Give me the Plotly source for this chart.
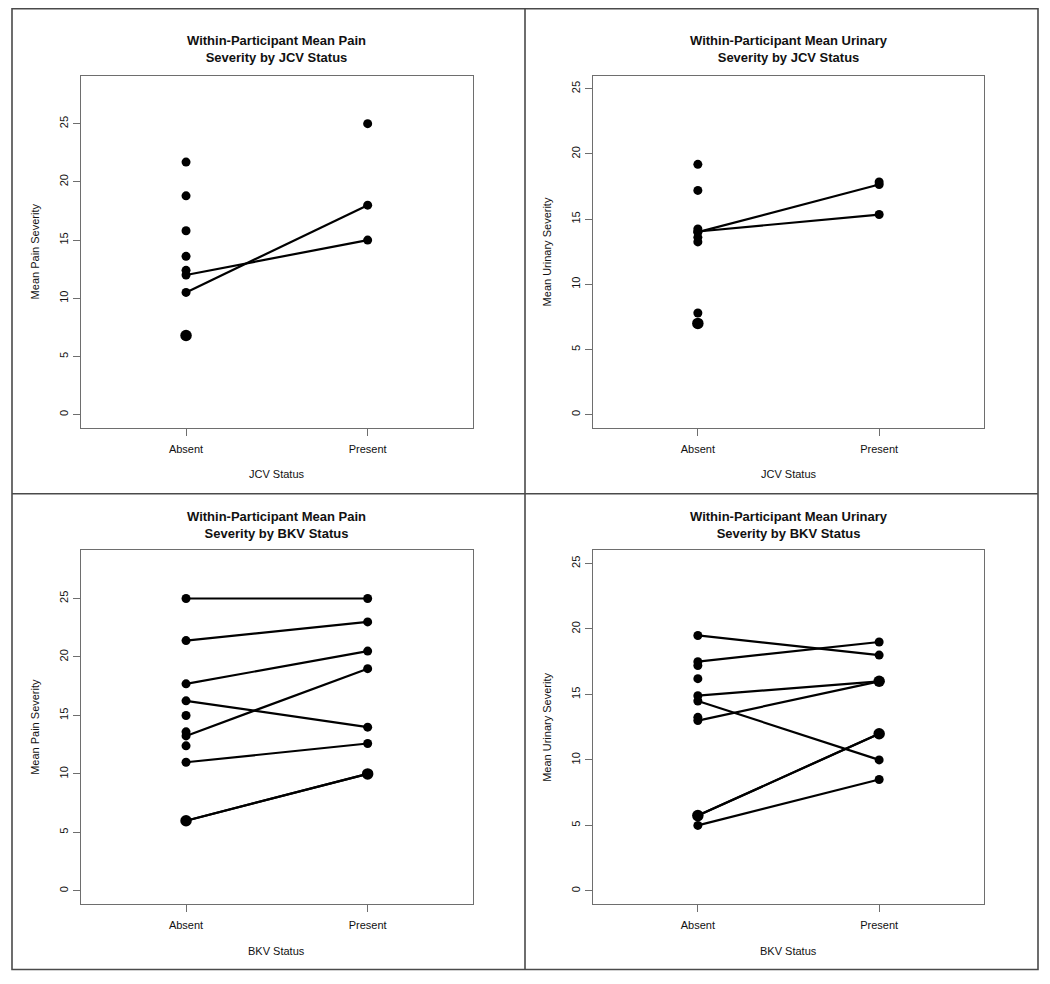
import plotly.graph_objects as go
from collections import Counter

# page body has an 8px margin; the figure is sized so that it fills the window
OFF = 8
W, H = 1050 - OFF, 984 - OFF

# ---------------- data ----------------
x_categories = ["Absent", "Present"]
pain_ticks = [0, 5, 10, 15, 20, 25]
urinary_ticks = [0, 5, 10, 15, 20, 25]

# Panel 1: pain by JCV
pain_jcv_pair_absent = [12.0, 10.5]
pain_jcv_pair_present = [15.0, 18.0]
pain_jcv_absent_only = [21.7, 18.8, 15.8, 13.6, 12.4, 6.8, 6.8]
pain_jcv_present_only = [25.0]

# Panel 2: urinary by JCV
uri_jcv_pair_absent = [14.0, 14.05]
uri_jcv_pair_present = [17.65, 15.35]
uri_jcv_absent_only = [19.2, 17.2, 14.25, 13.6, 13.25, 7.8, 7.0, 7.0]
uri_jcv_present_only = [17.85]

# Panel 3: pain by BKV
pain_bkv_pair_absent = [25.0, 21.4, 17.7, 16.25, 13.25, 11.0, 6.0, 6.0]
pain_bkv_pair_present = [25.0, 23.0, 20.5, 14.0, 19.0, 12.6, 10.0, 10.0]
pain_bkv_absent_only = [15.0, 13.6, 12.4]
pain_bkv_present_only = []

# Panel 4: urinary by BKV
uri_bkv_pair_absent = [19.5, 17.5, 14.9, 13.0, 14.5, 5.75, 5.75, 5.0]
uri_bkv_pair_present = [18.0, 19.0, 16.0, 16.0, 10.0, 12.0, 12.0, 8.5]
uri_bkv_absent_only = [17.2, 16.2, 13.25]
uri_bkv_present_only = []

titles = [
    "Within-Participant Mean Pain<br>Severity by JCV Status",
    "Within-Participant Mean Urinary<br>Severity by JCV Status",
    "Within-Participant Mean Pain<br>Severity by BKV Status",
    "Within-Participant Mean Urinary<br>Severity by BKV Status",
]
y_titles = ["Mean Pain Severity", "Mean Urinary Severity",
            "Mean Pain Severity", "Mean Urinary Severity"]
x_titles = ["JCV Status", "JCV Status", "BKV Status", "BKV Status"]

panels = [
    (pain_jcv_pair_absent, pain_jcv_pair_present, pain_jcv_absent_only, pain_jcv_present_only, pain_ticks, [0, 28]),
    (uri_jcv_pair_absent, uri_jcv_pair_present, uri_jcv_absent_only, uri_jcv_present_only, urinary_ticks, [0, 25]),
    (pain_bkv_pair_absent, pain_bkv_pair_present, pain_bkv_absent_only, pain_bkv_present_only, pain_ticks, [0, 28]),
    (uri_bkv_pair_absent, uri_bkv_pair_present, uri_bkv_absent_only, uri_bkv_present_only, urinary_ticks, [0, 25]),
]

# ---------------- layout geometry (window pixels) ----------------
boxes = [  # left, right, top, bottom
    (80.7, 473.0, 75.7, 427.7),
    (592.7, 984.3, 75.7, 427.7),
    (80.7, 473.0, 550.3, 904.0),
    (592.7, 984.3, 550.3, 904.0),
]

def px(x):
    return (x - OFF) / W

def py(y):
    return 1 - (y - OFF) / H

FONT = "Liberation Sans, Arial, sans-serif"
TXT = "#111111"
AXC = "#6e6e6e"

fig = go.Figure()
annotations = []
layout_axes = {}

for i, (pa, pp, ao, po, ticks, ylim) in enumerate(panels):
    n = i + 1
    xa = "x" if n == 1 else f"x{n}"
    ya = "y" if n == 1 else f"y{n}"
    # lines joining each participant's two means
    lx, ly = [], []
    for a, p in zip(pa, pp):
        lx += [1, 2, None]
        ly += [a, p, None]
    fig.add_trace(go.Scatter(x=lx, y=ly, mode="lines", xaxis=xa, yaxis=ya,
                             line=dict(color="black", width=2.2),
                             showlegend=False, hoverinfo="skip"))
    # points (duplicates drawn larger)
    absent_all = list(pa) + list(ao)
    present_all = list(pp) + list(po)
    for xv, vals in ((1, absent_all), (2, present_all)):
        cnt = Counter(vals)
        uniq = list(cnt.keys())
        sizes = [9 if cnt[v] == 1 else 11.5 for v in uniq]
        fig.add_trace(go.Scatter(x=[xv] * len(uniq), y=uniq, mode="markers",
                                 xaxis=xa, yaxis=ya, opacity=1,
                                 marker=dict(color="#000000", size=sizes, opacity=1,
                                             line=dict(width=0)),
                                 showlegend=False))
    L, R, T, B = boxes[i]
    ext = (ylim[1] - ylim[0]) * 0.04
    axis_common = dict(showline=True, mirror=True, linecolor=AXC, linewidth=1.3,
                       ticks="outside", ticklen=7, tickcolor=AXC, tickwidth=1.2,
                       showgrid=False, zeroline=False,
                       tickfont=dict(family=FONT, size=11, color=TXT))
    xkey = "xaxis" if n == 1 else f"xaxis{n}"
    ykey = "yaxis" if n == 1 else f"yaxis{n}"
    layout_axes[xkey] = dict(domain=[px(L), px(R)], anchor=ya, range=[0.42, 2.58],
                             tickvals=[1, 2], ticktext=x_categories,
                             ticklabelstandoff=4, **axis_common)
    layout_axes[ykey] = dict(domain=[py(B), py(T)], anchor=xa,
                             range=[ylim[0] - ext, ylim[1] + ext],
                             tickvals=ticks, ticktext=[str(t) for t in ticks],
                             tickangle=-90, **axis_common)
    cx = (L + R) / 2
    cy = (T + B) / 2
    title_y = 49 if i < 2 else 525
    annotations.append(dict(text=f"<b>{titles[i]}</b>", x=px(cx), y=py(title_y),
                            xref="paper", yref="paper", showarrow=False,
                            xanchor="center", yanchor="middle",
                            font=dict(family=FONT, size=13, color=TXT)))
    annotations.append(dict(text=y_titles[i], x=px(L - 46), y=py(cy),
                            xref="paper", yref="paper", showarrow=False,
                            textangle=-90, xanchor="center", yanchor="middle",
                            font=dict(family=FONT, size=11, color=TXT)))
    annotations.append(dict(text=x_titles[i], x=px(cx), y=py(B + 46.5),
                            xref="paper", yref="paper", showarrow=False,
                            xanchor="center", yanchor="middle",
                            font=dict(family=FONT, size=11, color=TXT)))

BORDER = "#4a4a4a"
shapes = [
    dict(type="rect", xref="paper", yref="paper", x0=px(12), x1=px(1038),
         y0=py(969.5), y1=py(8.6), line=dict(color=BORDER, width=1.6)),
    dict(type="line", xref="paper", yref="paper", x0=px(525), x1=px(525),
         y0=py(969.5), y1=py(8.6), line=dict(color=BORDER, width=1.6)),
    dict(type="line", xref="paper", yref="paper", x0=px(12), x1=px(1038),
         y0=py(493.7), y1=py(493.7), line=dict(color=BORDER, width=1.6)),
]

fig.update_layout(width=W, height=H, margin=dict(l=0, r=0, t=0, b=0),
                  paper_bgcolor="white", plot_bgcolor="white",
                  annotations=annotations, shapes=shapes, showlegend=False,
                  **layout_axes)

fig.write_html("out.html")
